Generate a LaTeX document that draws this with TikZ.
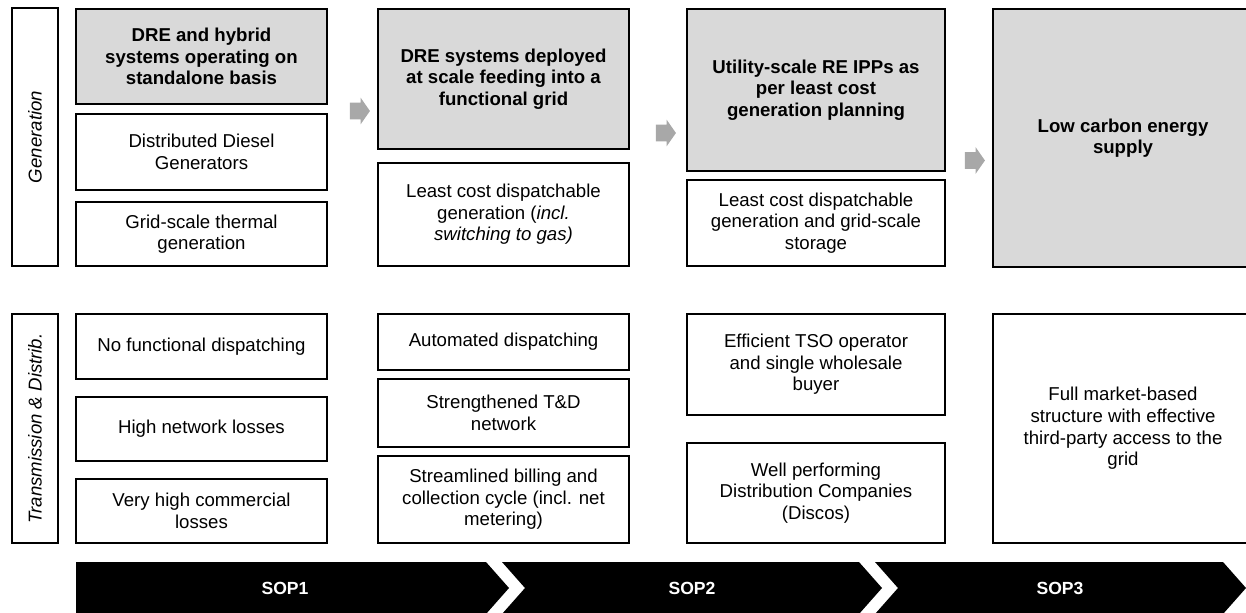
\documentclass[tikz,border=0pt]{standalone}
\usepackage{fontspec}
\setmainfont{Liberation Sans}
\usetikzlibrary{shapes.arrows}

\definecolor{keygray}{HTML}{D9D9D9}
\definecolor{stepgray}{HTML}{A8A8A8}

\begin{document}
\begin{tikzpicture}[
  every node/.style={font=\fontsize{10.6}{12.3}\selectfont},
  box/.style={draw,rectangle,line width=0.8pt,align=center,inner sep=0pt},
  keybox/.style={box,fill=keygray,line width=1.1pt,font=\fontsize{10.6}{12.3}\selectfont\bfseries},
  sidebox/.style={box,line width=0.6pt,rotate=90,minimum height=0.92cm,font=\fontsize{10.6}{12.3}\selectfont\itshape},
  col1/.style={minimum width=5.02cm},
  col2/.style={minimum width=5.02cm},
  col3/.style={minimum width=5.16cm},
  col4/.style={minimum width=5.20cm},
  steparrow/.style={single arrow,fill=stepgray,inner xsep=0pt,inner ysep=0.16cm,minimum height=0.4cm,
    single arrow head extend=0.1cm,single arrow tip angle=110},
  soplabel/.style={text=white,font=\fontsize{10}{12}\selectfont\bfseries}
]
  \useasboundingbox (0,0) rectangle (24.92,-12.24);
  \clip (0,0) rectangle (24.92,-12.24);

  % generation
  \node[sidebox,minimum width=5.16cm] (LG) at (0.70,-2.74) {Generation};
  \node[keybox,col1,minimum height=1.90cm] (G1a) at (4.03,-1.13) {DRE and hybrid\\systems operating on\\standalone basis};
  \node[box,col1,minimum height=1.52cm] (G1b) at (4.03,-3.04) {Distributed Diesel\\Generators};
  \node[box,col1,minimum height=1.28cm] (G1c) at (4.03,-4.68) {Grid-scale thermal\\generation};

  \node[keybox,col2,minimum height=2.80cm] (G2a) at (10.07,-1.58) {DRE systems deployed\\at scale feeding into a\\functional grid};
  \node[box,col2,minimum height=2.06cm] (G2b) at (10.07,-4.29) {Least cost dispatchable\\generation (\textit{incl.}\\\textit{switching to gas)}};

  \node[keybox,col3,minimum height=3.24cm] (G3a) at (16.32,-1.80) {Utility-scale RE IPPs as\\per least cost\\generation planning};
  \node[box,col3,minimum height=1.72cm] (G3b) at (16.32,-4.46) {Least cost dispatchable\\generation and grid-scale\\storage};

  \node[keybox,col4,minimum height=5.16cm] (G4a) at (22.46,-2.76) {Low carbon energy\\supply};

  \node[steparrow] (A1) at (7.14,-2.22) {};
  \node[steparrow] (A2) at (13.26,-2.66) {};
  \node[steparrow] (A3) at (19.44,-3.21) {};

  % transmission and distribution
  \node[sidebox,minimum width=4.58cm] (LT) at (0.70,-8.57) {Transmission \& Distrib.};
  \node[box,col1,minimum height=1.30cm] (T1a) at (4.03,-6.93) {No functional dispatching};
  \node[box,col1,minimum height=1.28cm] (T1b) at (4.03,-8.58) {High network losses};
  \node[box,col1,minimum height=1.28cm] (T1c) at (4.03,-10.22) {Very high commercial\\losses};

  \node[box,col2,minimum height=1.12cm] (T2a) at (10.07,-6.84) {Automated dispatching};
  \node[box,col2,minimum height=1.36cm] (T2b) at (10.07,-8.26) {Strengthened T\&D\\network};
  \node[box,col2,minimum height=1.74cm] (T2c) at (10.07,-9.99) {Streamlined billing and\\collection cycle (incl. net\\metering)};

  \node[box,col3,minimum height=2.02cm] (T3a) at (16.32,-7.29) {Efficient TSO operator\\and single wholesale\\buyer};
  \node[box,col3,minimum height=2.00cm] (T3b) at (16.32,-9.86) {Well performing\\Distribution Companies\\(Discos)};

  \node[box,col4,minimum height=4.58cm] (T4) at (22.46,-8.57) {Full market-based\\structure with effective\\third-party access to the\\grid};

  % SOP chevrons
  \fill (1.52,-11.24) -- (9.72,-11.24) -- (10.18,-11.76) -- (9.72,-12.28) -- (1.52,-12.28) -- cycle;
  \fill (10.04,-11.24) -- (17.18,-11.24) -- (17.64,-11.76) -- (17.18,-12.28) -- (10.04,-12.28) -- (10.50,-11.76) -- cycle;
  \fill (17.50,-11.24) -- (24.46,-11.24) -- (24.92,-11.76) -- (24.46,-12.28) -- (17.50,-12.28) -- (17.96,-11.76) -- cycle;
  \node[soplabel] (S1) at (5.70,-11.76) {SOP1};
  \node[soplabel] (S2) at (13.84,-11.76) {SOP2};
  \node[soplabel] (S3) at (21.20,-11.76) {SOP3};
\end{tikzpicture}
\end{document}
